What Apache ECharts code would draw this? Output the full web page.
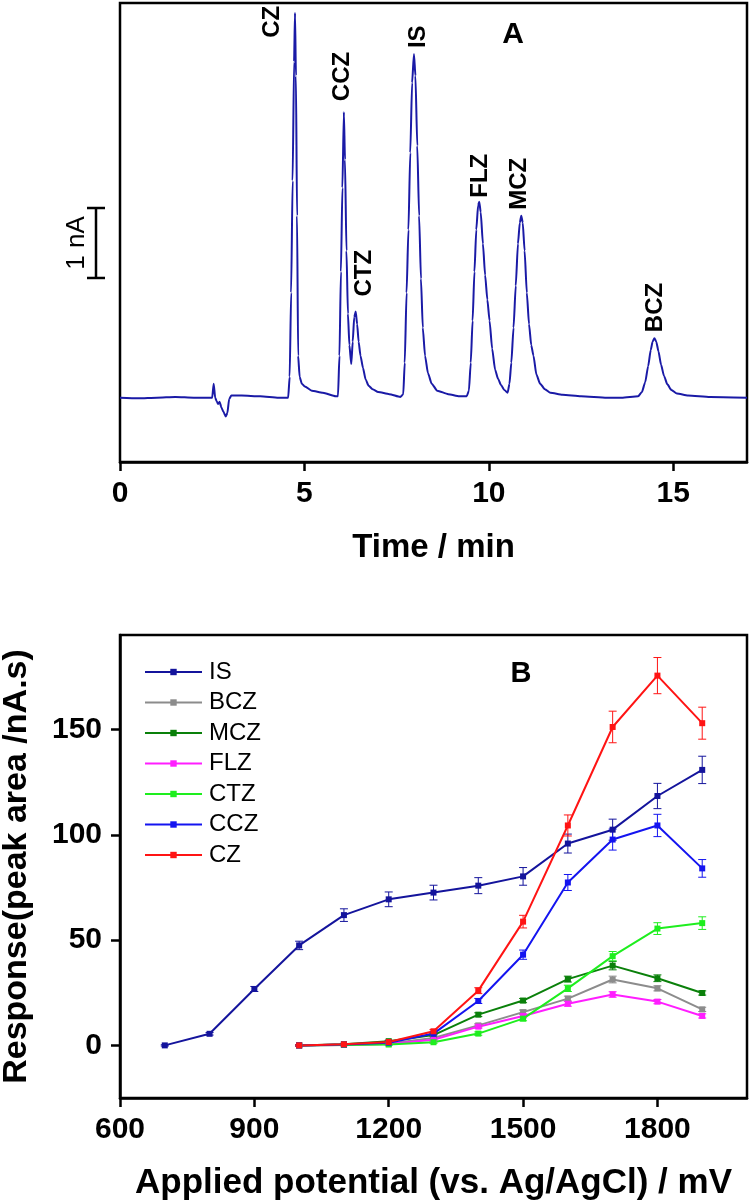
<!DOCTYPE html>
<html>
<head>
<meta charset="utf-8">
<title>Chromatogram and hydrodynamic voltammogram</title>
<script src="https://cdn.jsdelivr.net/npm/echarts@6/dist/echarts.min.js"></script>
<style>
  html, body { margin: 0; padding: 0; background: #fff; }
  #chart { width: 750px; height: 1204px; }
</style>
</head>
<body>
<div id="chart"></div>
<script>
"use strict";

// --- panel A: chromatogram (time in min, signal in nA above baseline) ---
var chromTime = [
    0, 0.5, 1.0, 1.5, 2.0, 2.50, 2.54, 2.58, 2.62, 2.66, 2.70, 2.75, 2.80, 2.87, 2.91, 2.96, 3.02, 3.3, 3.8, 4.3,
    4.56, 4.60, 4.64, 4.68, 4.72, 4.745, 4.77, 4.80, 4.83, 4.87, 4.93, 5.01, 5.2, 5.5, 5.85,
    5.91, 5.95, 5.99, 6.03, 6.07, 6.10, 6.14, 6.18, 6.22, 6.27, 6.31, 6.35, 6.39, 6.43, 6.47, 6.52, 6.59, 6.66, 6.74, 6.85, 7.0, 7.3, 7.6,
    7.68, 7.72, 7.77, 7.82, 7.87, 7.92, 7.97, 8.01, 8.06, 8.11, 8.16, 8.21, 8.27, 8.35, 8.45, 8.6, 8.9, 9.2,
    9.40, 9.46, 9.51, 9.56, 9.61, 9.66, 9.71, 9.74, 9.78, 9.84, 9.90, 9.96, 10.02, 10.09, 10.17, 10.25, 10.33, 10.42, 10.51,
    10.56, 10.61, 10.67, 10.73, 10.79, 10.84, 10.88, 10.92, 10.97, 11.03, 11.09, 11.15, 11.21, 11.29, 11.39, 11.52, 11.67, 12.0, 12.5, 13.2,
    13.6, 14.05, 14.15, 14.24, 14.32, 14.39, 14.44, 14.49, 14.54, 14.60, 14.67, 14.75, 14.84, 14.95, 15.1, 15.4, 16.0, 17.0
];
var chromSignal = [
    0, -0.01, 0, 0.01, 0, 0, 0.2, 0, -0.05, -0.09, -0.06, -0.14, -0.2, -0.27, -0.22, -0.02, 0.03, 0.03, 0.02, 0,
    0, 0.3, 1.5, 3.1, 4.8, 5.5, 4.6, 2.6, 0.6, 0.3, 0.2, 0.16, 0.1, 0.07, 0.02,
    0.02, 0.6, 1.8, 3.0, 4.08, 3.4, 2.1, 1.2, 0.75, 0.48, 0.8, 1.15, 1.23, 1.05, 0.8, 0.6, 0.42, 0.26, 0.17, 0.12, 0.08, 0.05, 0.01,
    0.05, 0.5, 1.5, 2.4, 3.5, 4.5, 4.91, 4.6, 3.6, 2.6, 1.7, 1.0, 0.6, 0.35, 0.2, 0.1, 0.05, 0.02,
    0.02, 0.1, 0.5, 1.1, 1.8, 2.4, 2.75, 2.8, 2.65, 2.2, 1.75, 1.4, 1.1, 0.7, 0.4, 0.27, 0.18, 0.11, 0.07,
    0.2, 0.5, 1.0, 1.6, 2.2, 2.5, 2.6, 2.5, 2.1, 1.5, 1.05, 0.75, 0.6, 0.33, 0.2, 0.12, 0.07, 0.04, 0.02, 0,
    0, 0.02, 0.08, 0.22, 0.45, 0.68, 0.8, 0.85, 0.8, 0.66, 0.47, 0.31, 0.19, 0.11, 0.06, 0.03, 0.01, 0
];
var peakNames = ['CZ', 'CCZ', 'CTZ', 'IS', 'FLZ', 'MCZ', 'BCZ'];
var peakTimes = [4.745, 6.07, 6.39, 7.97, 9.74, 10.88, 14.49];
var peakHeights = [5.5, 4.08, 1.23, 4.91, 2.8, 2.6, 0.85];
var timeTicks = [0, 5, 10, 15];
var scaleBarNA = [1.71, 2.71];

// --- panel B: response vs applied potential ---
var potentialIS = [700, 800, 900, 1000, 1100, 1200, 1300, 1400, 1500, 1600, 1700, 1800, 1900];
var potentialDrug = [1000, 1100, 1200, 1300, 1400, 1500, 1600, 1700, 1800, 1900];
var respIS = [0, 5.5, 26.8, 47.5, 61.9, 69.4, 72.6, 75.9, 80.3, 95.9, 102.5, 118.5, 130.9];
var respBCZ = [0, 0.4, 0.9, 3.5, 9.5, 15.8, 22.2, 31.3, 27.1, 17.1];
var respMCZ = [0, 0.5, 2.0, 4.9, 14.6, 21.3, 31.5, 37.9, 31.9, 24.9];
var respFLZ = [0, 0.2, 0.7, 2.7, 8.9, 14.0, 19.8, 24.2, 20.8, 14.0];
var respCTZ = [0, 0.2, 0.4, 1.5, 5.6, 12.7, 27.1, 42.4, 55.5, 58.1];
var respCCZ = [0, 0.4, 1.3, 5.6, 21.1, 43.1, 77.4, 97.8, 104.5, 84.1];
var respCZ = [0, 0.5, 1.6, 6.7, 26.0, 58.8, 104.5, 151.3, 175.7, 153.1];
var errIS = [0.3, 0.6, 1.2, 2.0, 3.0, 3.5, 3.5, 3.8, 4.2, 4.5, 5.0, 6.0, 6.5];
var errBCZ = [0.3, 0.3, 0.4, 0.6, 0.8, 1.0, 1.2, 1.6, 1.2, 1.0];
var errMCZ = [0.3, 0.3, 0.4, 0.6, 0.9, 1.0, 1.4, 2.0, 1.6, 1.0];
var errFLZ = [0.3, 0.3, 0.3, 0.5, 0.8, 0.9, 1.2, 1.3, 1.0, 1.0];
var errCTZ = [0.3, 0.3, 0.3, 0.5, 0.8, 1.0, 1.5, 2.2, 2.8, 3.0];
var errCCZ = [0.3, 0.3, 0.4, 0.6, 1.2, 2.2, 3.8, 5.0, 5.3, 4.2];
var errCZ = [0.3, 0.3, 0.4, 0.8, 1.4, 3.0, 5.0, 7.5, 8.6, 7.6];
var potentialTicks = [600, 900, 1200, 1500, 1800];
var responseTicks = [0, 50, 100, 150];

var FONT = "'Liberation Sans', Arial, sans-serif";

var curvesB = [
    { name: 'IS',  x: potentialIS,   y: respIS,  err: errIS,  color: '#14149c' },
    { name: 'BCZ', x: potentialDrug, y: respBCZ, err: errBCZ, color: '#8c8c8c' },
    { name: 'MCZ', x: potentialDrug, y: respMCZ, err: errMCZ, color: '#0a800a' },
    { name: 'FLZ', x: potentialDrug, y: respFLZ, err: errFLZ, color: '#ff1eff' },
    { name: 'CTZ', x: potentialDrug, y: respCTZ, err: errCTZ, color: '#1eee1e' },
    { name: 'CCZ', x: potentialDrug, y: respCCZ, err: errCCZ, color: '#1414f0' },
    { name: 'CZ',  x: potentialDrug, y: respCZ,  err: errCZ,  color: '#ff1414' }
];

function zip(xs, ys) {
    return xs.map(function (x, i) { return [x, ys[i]]; });
}

function errorBars(c) {
    return {
        type: 'custom',
        name: c.name + ' error',
        xAxisIndex: 1,
        yAxisIndex: 1,
        silent: true,
        z: 1,
        data: c.x.map(function (x, i) { return [x, c.y[i] - c.err[i], c.y[i] + c.err[i]]; }),
        encode: { x: 0, y: [1, 2] },
        renderItem: function (params, api) {
            var lo = api.coord([api.value(0), api.value(1)]);
            var hi = api.coord([api.value(0), api.value(2)]);
            var w = 4;
            var st = { stroke: c.color, lineWidth: 1 };
            return {
                type: 'group',
                children: [
                    { type: 'line', shape: { x1: lo[0], y1: lo[1], x2: hi[0], y2: hi[1] }, style: st },
                    { type: 'line', shape: { x1: lo[0] - w, y1: lo[1], x2: lo[0] + w, y2: lo[1] }, style: st },
                    { type: 'line', shape: { x1: hi[0] - w, y1: hi[1], x2: hi[0] + w, y2: hi[1] }, style: st }
                ]
            };
        }
    };
}

function plain(v) {
    return String(v);
}

var tickStyle = { show: true, length: 9, lineStyle: { color: '#000', width: 2.5 } };
var labelStyle = { color: '#000', fontSize: 30, fontWeight: 'bold', fontFamily: FONT, formatter: plain };
var nameStyle = { color: '#000', fontWeight: 'bold', fontFamily: FONT };

var series = [{
    type: 'line',
    name: 'chromatogram',
    xAxisIndex: 0,
    yAxisIndex: 0,
    data: zip(chromTime, chromSignal),
    showSymbol: false,
    smooth: 0.2,
    smoothMonotone: 'x',
    lineStyle: { color: '#1a1aa6', width: 2 },
    silent: true
}];

curvesB.forEach(function (c) {
    series.push(errorBars(c));
});
curvesB.forEach(function (c) {
    series.push({
        type: 'line',
        name: c.name,
        xAxisIndex: 1,
        yAxisIndex: 1,
        data: zip(c.x, c.y),
        symbol: 'rect',
        symbolSize: 6,
        color: c.color,
        lineStyle: { color: c.color, width: 2 },
        itemStyle: { color: c.color },
        z: 3
    });
});

var chart = echarts.init(document.getElementById('chart'));

var option = {
    animation: false,
    backgroundColor: '#fff',
    grid: [
        { left: 120, right: 3, top: 3, bottom: 742, outerBoundsMode: 'none', containLabel: false,
          show: true, borderColor: '#000', borderWidth: 2.5 },
        { left: 120, right: 3, top: 635, bottom: 106, outerBoundsMode: 'none', containLabel: false,
          show: true, borderColor: '#000', borderWidth: 2.5 }
    ],
    xAxis: [{
        gridIndex: 0,
        type: 'value',
        min: 0,
        max: 17,
        name: 'Time / min',
        nameLocation: 'middle',
        nameGap: 69,
        nameTextStyle: Object.assign({ fontSize: 33 }, nameStyle),
        axisLine: { show: true, onZero: false, lineStyle: { color: '#000', width: 2.5 } },
        axisTick: Object.assign({ customValues: timeTicks }, tickStyle),
        axisLabel: Object.assign({ customValues: timeTicks, margin: 17 }, labelStyle),
        splitLine: { show: false }
    }, {
        gridIndex: 1,
        type: 'value',
        min: 600,
        max: 2000,
        name: 'Applied potential (vs. Ag/AgCl) / mV',
        nameLocation: 'middle',
        nameGap: 68,
        nameTextStyle: Object.assign({ fontSize: 35 }, nameStyle),
        axisLine: { show: true, onZero: false, lineStyle: { color: '#000', width: 2.5 } },
        axisTick: Object.assign({ customValues: potentialTicks }, tickStyle),
        axisLabel: Object.assign({ customValues: potentialTicks, margin: 17 }, labelStyle),
        splitLine: { show: false }
    }],
    yAxis: [{
        gridIndex: 0,
        type: 'value',
        min: -0.92,
        max: 5.64,
        axisLine: { show: false },
        axisTick: { show: false },
        axisLabel: { show: false },
        splitLine: { show: false }
    }, {
        gridIndex: 1,
        type: 'value',
        min: -25,
        max: 195,
        name: 'Response(peak area /nA.s)',
        nameLocation: 'middle',
        nameGap: 86,
        nameTextStyle: Object.assign({ fontSize: 34 }, nameStyle),
        axisLine: { show: true, onZero: false, lineStyle: { color: '#000', width: 2.5 } },
        axisTick: Object.assign({ customValues: responseTicks }, tickStyle),
        axisLabel: Object.assign({ customValues: responseTicks, margin: 18 }, labelStyle),
        splitLine: { show: false }
    }],
    legend: {
        data: curvesB.map(function (c) { return c.name; }),
        orient: 'vertical',
        left: 144,
        top: 660,
        padding: 0,
        itemWidth: 57,
        itemHeight: 8,
        itemGap: 6.5,
        textStyle: { color: '#000', fontSize: 24, fontFamily: FONT, lineHeight: 24, padding: [0, 0, 0, 2] }
    },
    series: series
};

chart.setOption(option);

// annotations placed from the axes: peak names, scale bar, panel letters
var peakLabelShift = [[-23, 25], [-2, -11], [9, -15], [4, -6], [1, -4], [-2, -6], [1, -6]];
var graphics = [];

peakNames.forEach(function (name, i) {
    var p = chart.convertToPixel({ gridIndex: 0 }, [peakTimes[i], peakHeights[i]]);
    graphics.push({
        type: 'text',
        x: p[0] + peakLabelShift[i][0],
        y: p[1] + peakLabelShift[i][1],
        rotation: Math.PI / 2,
        style: {
            text: name,
            fill: '#000',
            font: 'bold 24px ' + FONT,
            textAlign: 'left',
            textVerticalAlign: 'middle'
        }
    });
});

var barLo = chart.convertToPixel({ gridIndex: 0 }, [0, scaleBarNA[0]]);
var barHi = chart.convertToPixel({ gridIndex: 0 }, [0, scaleBarNA[1]]);
var barX = barLo[0] - 24;
var barStyle = { stroke: '#000', lineWidth: 2.5 };
graphics.push(
    { type: 'line', shape: { x1: barX, y1: barLo[1], x2: barX, y2: barHi[1] }, style: barStyle },
    { type: 'line', shape: { x1: barX - 9, y1: barLo[1], x2: barX + 9, y2: barLo[1] }, style: barStyle },
    { type: 'line', shape: { x1: barX - 9, y1: barHi[1], x2: barX + 9, y2: barHi[1] }, style: barStyle },
    {
        type: 'text',
        x: barX - 19,
        y: (barLo[1] + barHi[1]) / 2,
        rotation: Math.PI / 2,
        style: { text: '1 nA', fill: '#000', font: '26px ' + FONT, textAlign: 'center', textVerticalAlign: 'middle' }
    },
    {
        type: 'text', x: 513, y: 35,
        style: { text: 'A', fill: '#000', font: 'bold 30px ' + FONT, textAlign: 'center', textVerticalAlign: 'middle' }
    },
    {
        type: 'text', x: 521, y: 674,
        style: { text: 'B', fill: '#000', font: 'bold 29px ' + FONT, textAlign: 'center', textVerticalAlign: 'middle' }
    }
);

chart.setOption({ graphic: graphics });
</script>
</body>
</html>
